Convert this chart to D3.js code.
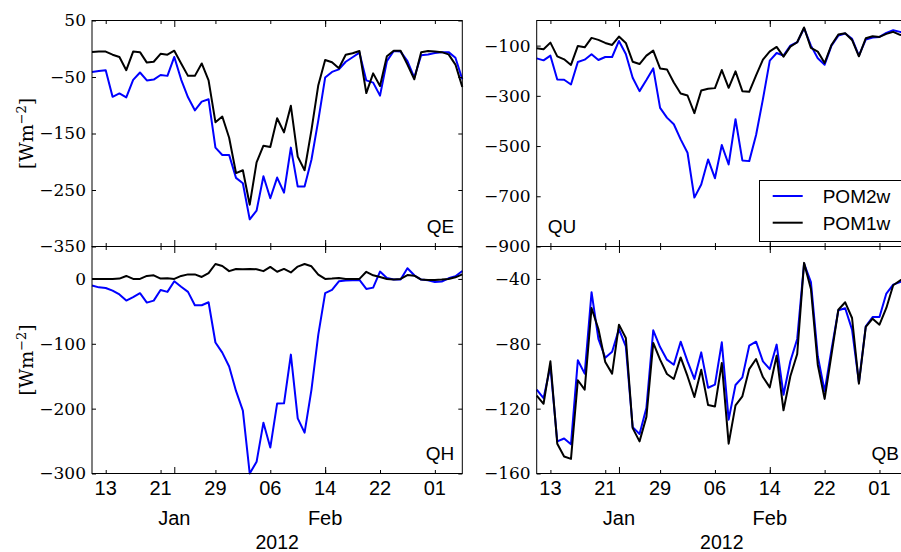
<!DOCTYPE html>
<html>
<head>
<meta charset="utf-8">
<script src="https://cdn.jsdelivr.net/npm/d3@7/dist/d3.min.js"></script>
<style>
  body { margin: 0; background: #fff; }
  svg { display: block; }
  .line { fill: none; stroke-width: 2; stroke-linejoin: round; }
  .axis path { display: none; }
  .axis line { stroke: #000; }
</style>
</head>
<body>
<svg id="chart" width="901" height="552"></svg>
<script>
// daily values, 11 Jan 2012 .. 5 Mar 2012
var startDay = "2012-01-11", endDay = "2012-03-05";
var seriesNames = ["POM2w", "POM1w"];
var seriesColors = ["#0000ff", "#000000"];

var qe2w = [-41,-39.5,-38,-85,-79,-86,-55,-42,-56,-54.5,-46.5,-48,-14.5,-54.5,-86,-109,-93.6,-89.5,-175,-188,-188,-228.5,-238,-302,-286.6,-225.6,-264.5,-228,-254.6,-175,-244,-244,-196.5,-126.7,-51,-41,-36.6,-23,-15,-7,-56,-60,-83,-22,-4,-5,-22,-51,-11.6,-10,-7.5,-6,-6,-16,-54];
var qe1w = [-5.8,-5,-5,-10.5,-14.5,-38,-5,-6,-24.5,-23,-9,-10.5,-3.5,-26,-48,-48,-26,-56,-130,-120,-157.5,-220,-215,-276,-201,-171.5,-174,-123,-148,-101,-191,-215,-144,-64.5,-20,-24,-34.5,-10.5,-8,-4,-78.5,-43.6,-66,-13.4,-3.5,-3.5,-28,-54,-6,-4,-5,-6,-10,-28,-67.5];

var qh2w = [-10,-13,-14,-18,-24,-33.4,-28,-22,-36.5,-33.4,-17,-20,-3.6,-12,-20,-40.6,-40.6,-36,-98,-113.6,-135,-172.7,-203,-300,-282,-221.6,-260,-192,-191.8,-116.7,-215,-237,-171,-86,-22,-17,-3.6,-2.6,-2,-1.5,-15.4,-13.4,11.3,1.5,-1,-1,16.5,5.6,-1,-2,-4.6,-4,1,4,12.3];
var qh1w = [0,0,0,0,0.5,4.6,0,0,4.6,5.6,0.5,1,0,4.6,7,7,3,9,23,20,12,15.4,15,15.4,15,12,18.5,11,15.4,10,19,23,19.5,6.7,0,0.5,1.5,0,0,0,11,5.6,3,0,-1,0,6,5,-1,-1.5,-1.5,-1,0,2.5,7];

var qu2w = [-150.7,-158.7,-140,-234.7,-236,-254.7,-165.3,-156,-134.7,-157.3,-145.3,-145.3,-81.3,-133.3,-228,-281.3,-237.3,-190.7,-348,-386.7,-413.3,-473.3,-526.7,-705.3,-653.3,-553.3,-628,-496,-573.3,-393.3,-557.3,-560,-456,-313.3,-160,-129.3,-140,-100,-86.7,-30.7,-100,-150.7,-176,-100,-60,-52,-73.3,-140,-76,-68,-65.3,-49.3,-38.7,-45.3,-52];
var qu1w = [-110.7,-114.7,-88,-142.7,-154.7,-177,-101.3,-106.7,-69.3,-77.3,-89.3,-97.3,-64,-89.3,-164,-173.3,-140,-120,-190.7,-194.7,-246.7,-290.7,-298.7,-369,-278.7,-272,-269.3,-197.3,-268,-202.7,-281.3,-284,-218.7,-156,-122.7,-105.3,-144,-104,-86.7,-28,-109.3,-124,-169.3,-97.3,-56,-50.7,-77.3,-142.7,-70.7,-62.7,-65.3,-53.3,-45.3,-57.3,-62];

var qb2w = [-108.3,-113.5,-93.9,-140.2,-138.4,-142,-90.2,-98.4,-48.2,-77,-88.6,-84.9,-70.9,-81.6,-131.4,-135.6,-119.6,-71.7,-82,-89.8,-92.9,-78.7,-90.8,-101.7,-85.3,-107.1,-105.2,-79.1,-126.8,-105.4,-100.7,-81.2,-78.7,-90.8,-95.6,-80.5,-111.4,-90.8,-77,-30.5,-42,-87.7,-109.3,-83.6,-59.3,-58.1,-71.3,-103.8,-69.2,-63.5,-63.5,-49,-43.5,-42,-40];
var qb1w = [-112,-117,-90.8,-141.6,-149.5,-151,-102.5,-108.3,-57.9,-70.9,-91.2,-98.4,-68.2,-76.4,-132,-140.2,-125.2,-79.5,-89.8,-98.6,-101.7,-88.4,-100,-112.8,-96,-117.8,-118.7,-91.9,-141.6,-118,-112.4,-95.6,-89.4,-100.5,-106.9,-87.3,-121,-100,-86.3,-30.1,-46.2,-92.9,-114,-86.7,-59,-54.4,-64.1,-104.6,-69.6,-64.5,-68.2,-57.9,-43.9,-41,-38];

var dayTicks = ["2012-01-13","2012-01-21","2012-01-29","2012-02-06","2012-02-14","2012-02-22","2012-03-01"];
var monthTicks = ["2012-01-23","2012-02-14"];
var monthLabels = ["Jan","Feb"];
var yearLabel = "2012";

var qeTicks = [50,-50,-150,-250,-350];
var qhTicks = [0,-100,-200,-300];
var quTicks = [-100,-300,-500,-700,-900];
var qbTicks = [-40,-80,-120,-160];

var parse = d3.utcParse("%Y-%m-%d");
var days = d3.utcDay.range(parse(startDay), d3.utcDay.offset(parse(endDay), 1));

var svg = d3.select("#chart");
svg.append("rect").attr("width", 901).attr("height", 552).attr("fill", "#fff");

var serif = "'DejaVu Serif', serif";
var sans = "'Liberation Sans', Arial, sans-serif";
var minus = function(v){ return String(v).replace("-", "\u2212"); };

var colX = [[92, 462.3], [536.7, 906.9]];
var rowY = [[20.5, 246.5], [246.5, 473.5]];

function drawPanel(col, row, domain, ticks, series, label, labelSide, showYLabel){
  var x0 = colX[col][0], x1 = colX[col][1], y0 = rowY[row][0], y1 = rowY[row][1];
  var x = d3.scaleUtc().domain([parse(startDay), parse(endDay)]).range([x0, x1]);
  var y = d3.scaleLinear().domain(domain).range([y1, y0]);
  var g = svg.append("g");

  var line = d3.line()
    .x(function(d, i){ return x(days[i]); })
    .y(function(d){ return y(d); });

  series.forEach(function(s, k){
    g.append("path").attr("class", "line")
      .attr("d", line(s))
      .style("stroke", seriesColors[k]);
  });

  // y axis, ticks inside
  g.append("g").attr("class", "axis")
    .attr("transform", "translate(" + x0 + ",0)")
    .call(d3.axisLeft(y).tickValues(ticks).tickSize(-4).tickPadding(6).tickFormat(minus))
    .selectAll("text").style("font", "17px " + serif).attr("fill", "#000");
  g.append("g").attr("class", "axis")
    .attr("transform", "translate(" + x1 + ",0)")
    .call(d3.axisRight(y).tickValues(ticks).tickSize(-4).tickFormat(""));

  // x ticks: day (minor) and month (major) on top and bottom
  var dt = dayTicks.map(parse), mt = monthTicks.map(parse);
  [[d3.axisBottom, y1], [d3.axisTop, y0]].forEach(function(a, k){
    g.append("g").attr("class", "axis")
      .attr("transform", "translate(0," + a[1] + ")")
      .call(a[0](x).tickValues(dt).tickSize(-3.5).tickFormat(""));
    g.append("g").attr("class", "axis")
      .attr("transform", "translate(0," + a[1] + ")")
      .call(a[0](x).tickValues(mt).tickSize(-6.5).tickFormat(""));
  });

  if (row == 1) {
    g.selectAll(".daylab").data(dt).enter().append("text")
      .attr("x", function(d){ return x(d); })
      .attr("y", y1 + 21.5)
      .attr("text-anchor", "middle")
      .style("font", "20px " + sans)
      .text(d3.utcFormat("%d"));
    g.selectAll(".monlab").data(mt).enter().append("text")
      .attr("x", function(d){ return x(d); })
      .attr("y", y1 + 51.5)
      .attr("text-anchor", "middle")
      .style("font", "20px " + sans)
      .text(function(d, i){ return monthLabels[i]; });
    g.append("text")
      .attr("x", (x0 + x1) / 2).attr("y", y1 + 75)
      .attr("text-anchor", "middle")
      .style("font", "19.5px " + sans)
      .text(yearLabel);
  }

  // frame
  g.append("rect")
    .attr("x", x0).attr("y", y0)
    .attr("width", x1 - x0).attr("height", y1 - y0)
    .attr("fill", "none").attr("stroke", "#000").attr("stroke-width", 1);

  g.append("text")
    .attr("x", labelSide == "right" ? x1 - 8 : x0 + 11)
    .attr("y", y1 - 14)
    .attr("text-anchor", labelSide == "right" ? "end" : "start")
    .style("font", "19px " + sans)
    .text(label);

  if (showYLabel) {
    var t = g.append("text")
      .attr("transform", "translate(33," + ((y0 + y1) / 2) + ") rotate(-90)")
      .attr("text-anchor", "middle")
      .style("font", "19px " + serif);
    t.append("tspan").text("[Wm");
    t.append("tspan").attr("dy", -7).style("font-size", "13px").text("\u22122");
    t.append("tspan").attr("dy", 7).text("]");
  }
}

drawPanel(0, 0, [-350, 50], qeTicks, [qe2w, qe1w], "QE", "right", true);
drawPanel(0, 1, [-300, 50], qhTicks, [qh2w, qh1w], "QH", "right", true);
drawPanel(1, 0, [-900, 0], quTicks, [qu2w, qu1w], "QU", "left", false);
drawPanel(1, 1, [-160, -20], qbTicks, [qb2w, qb1w], "QB", "right", false);

// legend in the QU panel
var lg = svg.append("g");
lg.append("rect")
  .attr("x", 759.5).attr("y", 180.5).attr("width", 160).attr("height", 61)
  .attr("fill", "#fff").attr("stroke", "#000").attr("stroke-width", 1);
seriesNames.forEach(function(name, k){
  var yy = 196 + k * 26.7;
  lg.append("line")
    .attr("x1", 772.7).attr("x2", 802.7).attr("y1", yy).attr("y2", yy)
    .attr("stroke", seriesColors[k]).attr("stroke-width", 2);
  lg.append("text")
    .attr("x", 822.7).attr("y", yy + 7)
    .style("font", "19px " + sans)
    .text(name);
});
</script>
</body>
</html>
